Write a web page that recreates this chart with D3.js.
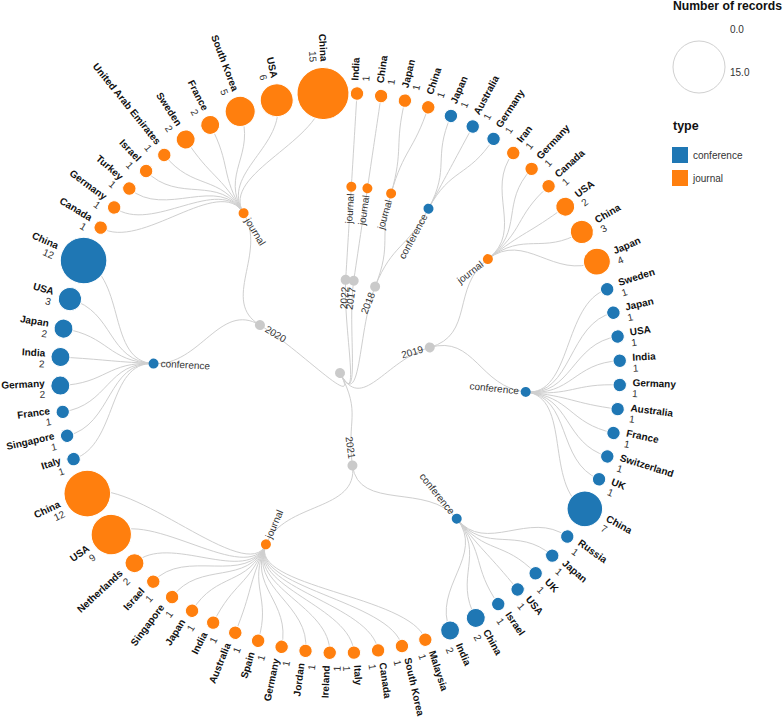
<!DOCTYPE html>
<html><head><meta charset="utf-8">
<script src="https://cdn.jsdelivr.net/npm/d3@7"></script>
<style>
body{margin:0;background:#fff;}
text{font-family: Arial, "Liberation Sans", Helvetica, sans-serif;}
</style>
</head><body>
<svg id="chart" width="784" height="720"></svg>
<script>
// ---- data ----
const groupYears = ["2022","2017","2018","2018","2019","2019","2021","2021","2020","2020"];
const groupTypes = ["journal","journal","journal","conference","journal","conference","conference","journal","conference","journal"];
const groupCountries = [
  ["India"],
  ["China"],
  ["Japan","China"],
  ["Japan","Australia","Germany"],
  ["Iran","Germany","Canada","USA","China","Japan"],
  ["Sweden","Japan","USA","India","Germany","Australia","France","Switzerland","UK","China"],
  ["Russia","Japan","UK","USA","Israel","China","India"],
  ["Malaysia","South Korea","Canada","Italy","Ireland","Jordan","Germany","Spain","Australia","India","Japan","Singapore","Israel","Netherlands","USA","China"],
  ["Italy","Singapore","France","Germany","India","Japan","USA","China"],
  ["Canada","Germany","Turkey","Israel","United Arab Emirates","Sweden","France","South Korea","USA","China"]
];
const groupCounts = [
  [1],
  [1],
  [1,1],
  [1,1,1],
  [1,1,1,2,3,4],
  [1,1,1,1,1,1,1,1,1,7],
  [1,1,1,1,1,2,2],
  [1,1,1,1,1,1,1,1,1,1,1,1,1,2,9,12],
  [1,1,1,2,2,2,3,12],
  [1,1,1,1,1,2,2,5,6,15]
];
const typeNames = ["conference","journal"];
const typeColors = ["#1f77b4","#ff7f0e"];
const sizeLegendLabels = ["0.0","15.0"];
const sizeLegendValues = [0,15];

// ---- hierarchy ----
const yearList = [];
groupYears.forEach(y => { if (!yearList.includes(y)) yearList.push(y); });
const rootData = {name: "", children: yearList.map(y => ({
  name: y,
  children: groupYears.map((gy, gi) => gy === y ? gi : -1).filter(gi => gi >= 0).map(gi => ({
    name: groupTypes[gi], type: groupTypes[gi],
    children: groupCountries[gi].map((c, i) => ({name: c, value: groupCounts[gi][i], type: groupTypes[gi]}))
  }))
}))};

const cx = 340, cy = 373, R = 280;
const color = d3.scaleOrdinal().domain(typeNames).range(typeColors);
const rScale = d3.scaleSqrt().domain([0, 15]).range([0, 26]);

const root = d3.hierarchy(rootData);
d3.tree()
  .size([2 * Math.PI, R])
  .separation((a, b) => Math.sqrt(a.data.value || 0) + Math.sqrt(b.data.value || 0) + 2.65)(root);

const svg = d3.select("#chart");
const g = svg.append("g").attr("transform", `translate(${cx},${cy})`);

// links
g.append("g")
  .attr("fill", "none")
  .attr("stroke", "#cfcfcf")
  .attr("stroke-width", 1)
  .selectAll("path")
  .data(root.links())
  .join("path")
  .attr("d", d3.linkRadial().angle(d => d.x).radius(d => d.y));

const deg = x => x * 180 / Math.PI;

// nodes
const node = g.append("g")
  .selectAll("g")
  .data(root.descendants())
  .join("g")
  .attr("transform", d => `rotate(${deg(d.x) - 90}) translate(${d.y},0)`);

node.append("circle")
  .attr("r", d => d.children ? 5 : rScale(d.data.value))
  .attr("fill", d => d.depth === 2 || !d.children ? color(d.data.type) : "#cacaca")
  .attr("stroke", d => d.children ? "none" : "#fff")
  .attr("stroke-width", 1);

// internal labels
node.filter(d => d.children && d.depth > 0)
  .append("text")
  .attr("dy", "0.31em")
  .attr("x", d => d.x < Math.PI ? -7 : 7)
  .attr("text-anchor", d => d.x < Math.PI ? "end" : "start")
  .attr("transform", d => d.x >= Math.PI ? "rotate(180)" : null)
  .attr("font-size", 10)
  .attr("fill", "#333")
  .text(d => d.data.name);

// leaf labels
const leafLab = node.filter(d => !d.children)
  .append("g")
  .attr("transform", d => d.x >= Math.PI ? "rotate(180)" : null);

leafLab.append("text")
  .attr("x", d => (d.x < Math.PI ? 1 : -1) * (rScale(d.data.value) + 6))
  .attr("y", 0.5)
  .attr("text-anchor", d => d.x < Math.PI ? "start" : "end")
  .attr("font-size", 10)
  .attr("font-weight", "bold")
  .attr("fill", "#111")
  .text(d => d.data.name);

leafLab.append("text")
  .attr("x", d => (d.x < Math.PI ? 1 : -1) * (rScale(d.data.value) + 6))
  .attr("y", 11.5)
  .attr("text-anchor", d => d.x < Math.PI ? "start" : "end")
  .attr("font-size", 10)
  .attr("fill", "#333")
  .text(d => d.data.value);

// ---- legends ----
const lg = svg.append("g");
lg.append("text").attr("x", 673).attr("y", 10)
  .attr("font-size", 12.2).attr("font-weight", "bold").attr("fill", "#111")
  .text("Number of records");
const legCircleBottom = 93;
lg.selectAll("circle.size")
  .data(sizeLegendValues)
  .join("circle")
  .attr("class", "size")
  .attr("cx", 699)
  .attr("cy", d => legCircleBottom - rScale(d))
  .attr("r", d => rScale(d))
  .attr("fill", "none")
  .attr("stroke", "#d0d0d0");
lg.selectAll("text.sizelab")
  .data(sizeLegendLabels)
  .join("text")
  .attr("class", "sizelab")
  .attr("x", 730)
  .attr("y", (d, i) => i === 0 ? 33 : 76)
  .attr("font-size", 10)
  .attr("fill", "#333")
  .text(d => d);

lg.append("text").attr("x", 673).attr("y", 130)
  .attr("font-size", 12.5).attr("font-weight", "bold").attr("fill", "#111")
  .text("type");
const items = lg.selectAll("g.item")
  .data(typeNames)
  .join("g")
  .attr("class", "item")
  .attr("transform", (d, i) => `translate(672,${147 + i * 23})`);
items.append("rect").attr("width", 16).attr("height", 16).attr("fill", d => color(d));
items.append("text").attr("x", 21).attr("y", 12).attr("font-size", 10).attr("fill", "#333").text(d => d);
</script>
</body></html>
